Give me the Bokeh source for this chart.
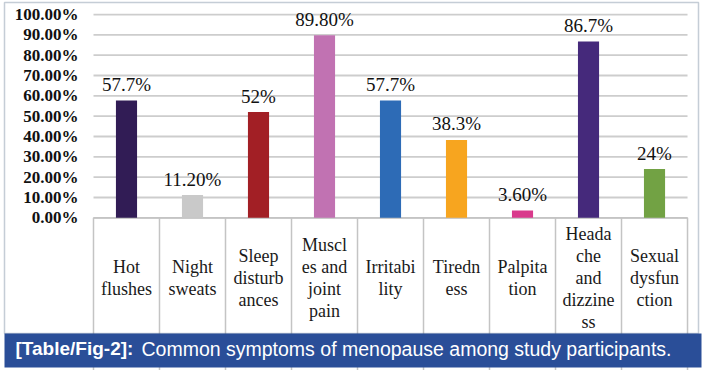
from bokeh.plotting import figure
from bokeh.models import (Range1d, FixedTicker, PrintfTickFormatter,
                          ColumnDataSource, BoxAnnotation, Label)
from bokeh.core.properties import value
from bokeh.embed import file_html
from bokeh.resources import INLINE

# ---------------- data ----------------
categories = ["Hot flushes", "Night sweats", "Sleep disturbances",
              "Muscles and joint pain", "Irritability", "Tiredness",
              "Palpitation", "Headache and dizziness", "Sexual dysfunction"]
cell_labels = ["Hot\nflushes", "Night\nsweats", "Sleep\ndisturb\nances",
               "Muscl\nes and\njoint\npain", "Irritabi\nlity", "Tiredn\ness",
               "Palpita\ntion", "Heada\nche\nand\ndizzine\nss", "Sexual\ndysfun\nction"]
values = [57.7, 11.2, 52.0, 89.8, 57.7, 38.3, 3.6, 86.7, 24.0]
value_labels = ["57.7%", "11.20%", "52%", "89.80%", "57.7%", "38.3%",
                "3.60%", "86.7%", "24%"]
bar_colors = ["#311c55", "#c9c9c9", "#a21f25", "#c172b2", "#2d6bb6",
              "#f7a51f", "#d93a8c", "#45297b", "#72a244"]
y_ticks = [0, 10, 20, 30, 40, 50, 60, 70, 80, 90, 100]
caption_tag = "[Table/Fig-2]:"
caption_text = "Common symptoms of menopause among study participants."

# ---------------- layout ----------------
W, H = 702, 370
X_START, X_END = -1.409, 9.227
Y_START, Y_END = -75.1, 106.9
SERIF = value("Liberation Serif")

n = len(categories)
xs = [i + 0.5 for i in range(n)]          # category centres
bounds = list(range(n + 1))               # category cell edges

src = ColumnDataSource(dict(x=xs, cat=categories, val=values, vlab=value_labels,
                            color=bar_colors, clab=cell_labels, zero=[0] * n))

p = figure(width=W, height=H, x_range=Range1d(X_START, X_END),
           y_range=Range1d(Y_START, Y_END), output_backend="svg",
           toolbar_location=None, x_axis_location=None,
           min_border=0, min_border_left=0, min_border_right=0,
           min_border_top=0, min_border_bottom=0)
p.outline_line_color = None
p.background_fill_color = "white"
p.border_fill_color = "white"
p.xgrid.visible = False
p.ygrid.visible = False

ax = p.yaxis[0]
ax.fixed_location = 0
ax.ticker = FixedTicker(ticks=y_ticks)
ax.formatter = PrintfTickFormatter(format="%.2f%%")
ax.axis_line_color = None
ax.major_tick_line_color = None
ax.minor_tick_line_color = None
ax.major_tick_in = 0
ax.major_tick_out = 0
ax.major_label_standoff = 15
ax.major_label_text_font = "Liberation Serif"
ax.major_label_text_font_style = "bold"
ax.major_label_text_font_size = "17px"
ax.major_label_text_color = "#111111"

# horizontal gridlines at the tick values
p.segment(x0=[0] * len(y_ticks), y0=y_ticks, x1=[n] * len(y_ticks), y1=y_ticks,
          line_color="#cdcdcd", line_width=1.8)

# table below the bars
p.segment(x0=bounds, y0=[0] * (n + 1), x1=bounds, y1=[Y_START] * (n + 1),
          line_color="#c4c4c4", line_width=1.5)
p.segment(x0=[0], y0=[0], x1=[n], y1=[0], line_color="#c4c4c4", line_width=1.8)

p.vbar(x="x", top="val", width=0.32, fill_color="color", line_color=None,
       source=src)

p.text(x="x", y="val", text="vlab", source=src, text_align="center",
       text_baseline="middle", y_offset=-16, text_font=SERIF,
       text_font_size="19px", text_color="#111111")

p.text(x="x", y="zero", text="clab", source=src, text_align="center",
       text_baseline="middle", y_offset=60, text_line_height=1.1,
       text_font=SERIF, text_font_size="18px", text_color="#1a1a1a")

# outer border, caption banner
p.add_layout(BoxAnnotation(left=4, right=698, bottom=37, top=368,
                           left_units="screen", right_units="screen",
                           bottom_units="screen", top_units="screen",
                           fill_alpha=0.0, line_color="#3e5878",
                           line_width=1.5))
p.add_layout(BoxAnnotation(left=4, right=701, bottom=3, top=37,
                           left_units="screen", right_units="screen",
                           bottom_units="screen", top_units="screen",
                           fill_color="#2a4e98", fill_alpha=1.0,
                           line_color=None))
p.add_layout(Label(x=15, y=22, x_units="screen", y_units="screen",
                   text=caption_tag, text_font="Liberation Sans",
                   text_font_style="bold", text_font_size="19px",
                   text_color="white", text_baseline="middle"))
p.add_layout(Label(x=141, y=22, x_units="screen", y_units="screen",
                   text=caption_text, text_font="Liberation Sans",
                   text_font_size="19.5px", text_color="white",
                   text_baseline="middle"))

open("out.html", "w").write(file_html(p, INLINE))
